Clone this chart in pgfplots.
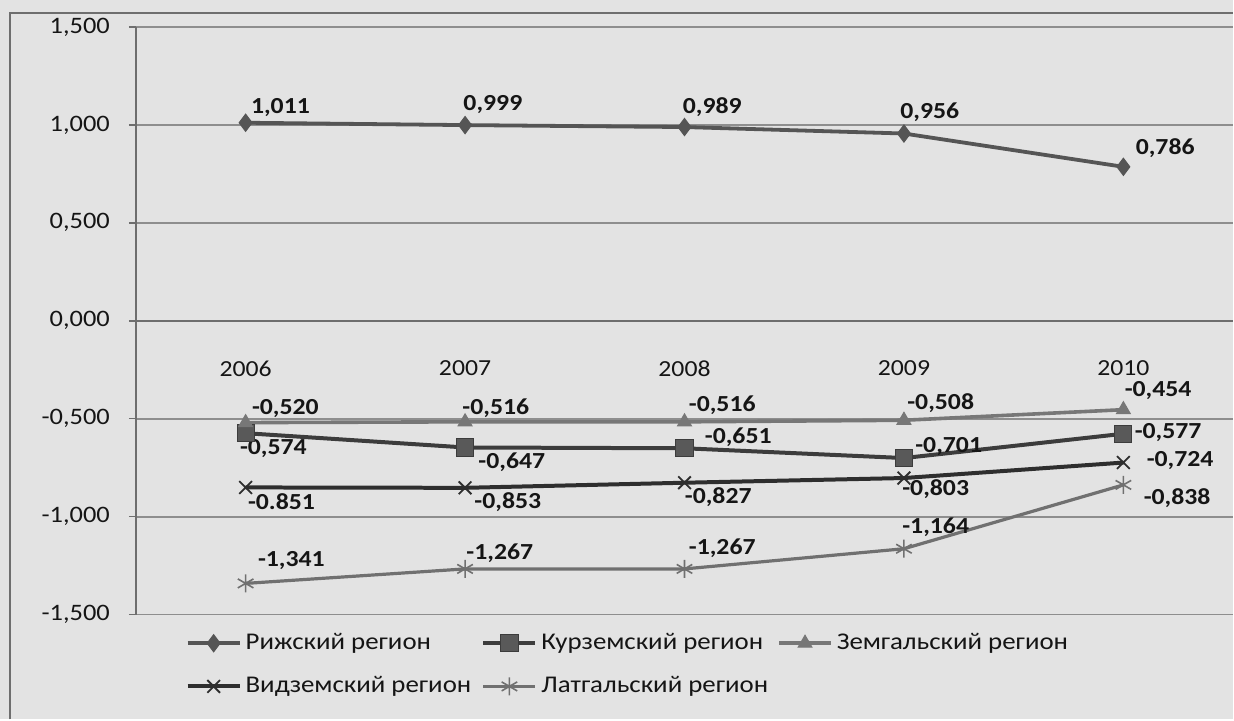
\documentclass[border=0pt]{standalone}
\usepackage{fontspec}
\setmainfont{Carlito}[FakeStretch=1.12]
\usepackage{pgfplots}
\pgfplotsset{compat=1.18}
\definecolor{bg}{HTML}{E3E3E3}
\definecolor{txt}{HTML}{151515}
\definecolor{gridc}{HTML}{8E8E8E}
\definecolor{axc}{HTML}{6E6E6E}
\definecolor{cRiga}{HTML}{555555}
\definecolor{cKurz}{HTML}{3C3C3C}
\definecolor{cZemg}{HTML}{777777}
\definecolor{cVidz}{HTML}{2E2E2E}
\definecolor{cLatg}{HTML}{707070}
\newcommand{\labfont}{\fontsize{11.5}{13}\selectfont\bfseries}
\newcommand{\lab}[5]{\node[anchor=base west, inner sep=0pt, font=\labfont, text=txt] at ([xshift=#3pt,yshift=#4pt]axis cs:#1,#2) {#5};}
\begin{document}
\begin{tikzpicture}
\fill[bg] (0pt,0pt) rectangle (617pt,360pt);
\draw[axc, line width=0.8pt] (5pt,0pt) -- (5pt,353.5pt) -- (617pt,353.5pt);
\begin{axis}[
  at={(68pt,52.5pt)}, anchor=south west,
  width=549pt, height=294pt, scale only axis,
  xmin=-0.5, xmax=4.5, ymin=-1.5, ymax=1.5,
  axis x line*=middle, axis y line*=left,
  axis line style={draw=axc, line width=0.8pt},
  xtick={0,1,2,3,4},
  xticklabels={2006,2007,2008,2009,2010},
  xtick style={draw=none},
  xticklabel style={font=\fontsize{11.5}{13}\selectfont, text=txt, yshift=-13pt},
  ytick={-1.5,-1,-0.5,0,0.5,1,1.5},
  yticklabels={{-1,500},{-1,000},{-0,500},{0,000},{0,500},{1,000},{1,500}},
  yticklabel style={font=\fontsize{11.8}{13}\selectfont, text=txt, xshift=-6pt},
  tick align=outside, major tick length=3.5pt,
  ytick style={draw=axc, line width=0.8pt},
  ymajorgrids, grid style={draw=gridc, line width=0.9pt},
  clip=false,
  legend columns=3,
  legend cell align=left,
  legend style={at={(0.045,-0.025)}, anchor=north west, draw=none, fill=none,
    inner sep=0pt, row sep=8pt,
    font=\fontsize{12}{14}\selectfont, text=txt},
  legend image code/.code={\draw[#1, mark repeat=2, mark phase=2] plot coordinates {(0pt,0pt)(13pt,0pt)(26pt,0pt)};},
]
\addplot[cRiga, line width=1.9pt, mark=diamond*, mark size=4.3pt, mark options={solid, fill=cRiga, draw=cRiga, line width=0.5pt}]
  coordinates {(0,1.011) (1,0.999) (2,0.989) (3,0.956) (4,0.786)};
\addlegendentry{\makebox[116pt][l]{Рижский регион}}
\addplot[cKurz, line width=2pt, mark=square*, mark size=4.3pt, mark options={solid, fill=cKurz!85!white, draw=cKurz, line width=0.5pt}]
  coordinates {(0,-0.574) (1,-0.647) (2,-0.651) (3,-0.701) (4,-0.577)};
\addlegendentry{\makebox[116pt][l]{Курземский регион}}
\addplot[cZemg, line width=1.8pt, mark=triangle*, mark size=4pt, mark options={solid, fill=cZemg, draw=cZemg, line width=0.5pt}]
  coordinates {(0,-0.520) (1,-0.516) (2,-0.516) (3,-0.508) (4,-0.454)};
\addlegendentry{\makebox[116pt][l]{Земгальский регион}}
\addplot[cVidz, line width=2pt, mark=x, mark size=4.5pt, mark options={solid, draw=cVidz, line width=0.9pt}]
  coordinates {(0,-0.851) (1,-0.853) (2,-0.827) (3,-0.803) (4,-0.724)};
\addlegendentry{\makebox[116pt][l]{Видземский регион}}
\addplot[cLatg, line width=1.6pt, mark=asterisk, mark size=4.5pt, mark options={solid, draw=cLatg, line width=0.8pt}]
  coordinates {(0,-1.341) (1,-1.267) (2,-1.267) (3,-1.164) (4,-0.838)};
\addlegendentry{\makebox[116pt][l]{Латгальский регион}}
% Riga
\lab{0}{1.011}{2.5}{4.5}{1,011}
\lab{1}{0.999}{-1}{7.5}{0,999}
\lab{2}{0.989}{-1}{7}{0,989}
\lab{3}{0.956}{-2}{7.5}{0,956}
\lab{4}{0.786}{6}{6}{0,786}
% Zemgale
\lab{0}{-0.520}{3}{4}{-0,520}
\lab{1}{-0.516}{-1.5}{3.5}{-0,516}
\lab{2}{-0.516}{2}{5}{-0,516}
\lab{3}{-0.508}{1.5}{5.5}{-0,508}
\lab{4}{-0.454}{0.5}{6.5}{-0,454}
% Kurzeme
\lab{0}{-0.574}{-3}{-10.5}{-0,574}
\lab{1}{-0.647}{6.5}{-10.5}{-0,647}
\lab{2}{-0.651}{10}{2.5}{-0,651}
\lab{3}{-0.701}{5.5}{3}{-0,701}
\lab{4}{-0.577}{5.5}{-2.5}{-0,577}
% Vidzeme
\lab{0}{-0.851}{1}{-11}{-0.851}
\lab{1}{-0.853}{4.5}{-10.5}{-0,853}
\lab{2}{-0.827}{0}{-10.5}{-0,827}
\lab{3}{-0.803}{-1}{-8.5}{-0,803}
\lab{4}{-0.724}{11.5}{-2}{-0,724}
% Latgale
\lab{0}{-1.341}{6}{8.5}{-1,341}
\lab{1}{-1.267}{0.5}{4.5}{-1,267}
\lab{2}{-1.267}{2}{7}{-1,267}
\lab{3}{-1.164}{-1}{7.5}{-1,164}
\lab{4}{-0.838}{10}{-10}{-0,838}
\end{axis}
\end{tikzpicture}
\end{document}
